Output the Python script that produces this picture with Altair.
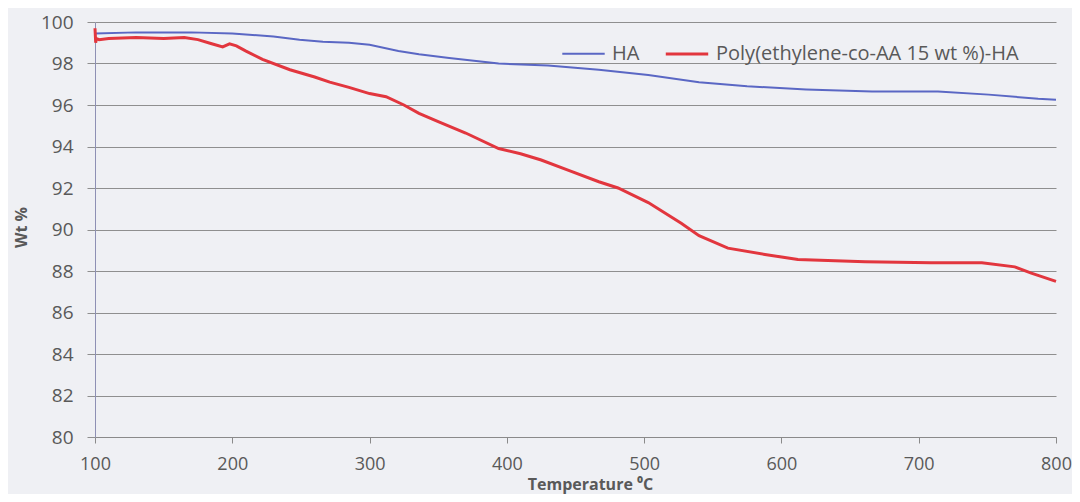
import altair as alt
import pandas as pd

# HA series (temperature degC, wt %)
ha_temp = [100, 130, 170, 200, 230, 249, 266, 285, 300, 321, 336, 358, 394, 430,
           467, 503, 540, 575, 618, 666, 714, 751, 787, 800]
ha_wt = [99.45, 99.5, 99.5, 99.45, 99.3, 99.15, 99.05, 99.0, 98.9, 98.6, 98.45, 98.27,
         98.0, 97.9, 97.7, 97.45, 97.1, 96.9, 96.75, 96.65, 96.65, 96.5, 96.3, 96.25]

# Poly(ethylene-co-AA 15 wt %)-HA series
pe_temp = [100, 100.5, 101, 103, 110, 130, 150, 165, 175, 185, 193, 198, 203, 210,
           222, 242, 260, 271, 285, 300, 312, 325, 336, 350, 370, 394, 410, 425,
           445, 467, 481, 503, 527, 540, 561, 588, 612, 661, 709, 746, 770, 782, 800]
pe_wt = [99.7, 99.0, 99.2, 99.15, 99.2, 99.25, 99.2, 99.25, 99.15, 98.95, 98.8, 98.95,
         98.85, 98.6, 98.2, 97.7, 97.35, 97.1, 96.85, 96.55, 96.4, 96.0, 95.6, 95.2,
         94.65, 93.9, 93.65, 93.35, 92.85, 92.3, 92.0, 91.3, 90.3, 89.7, 89.1, 88.8,
         88.55, 88.45, 88.4, 88.4, 88.2, 87.9, 87.5]

series_names = ["HA", "Poly(ethylene-co-AA 15 wt %)-HA"]
series_colors = ["#5a67c4", "#e2363e"]

df = pd.concat([
    pd.DataFrame({"T": ha_temp, "W": ha_wt, "s": series_names[0], "o": range(len(ha_temp))}),
    pd.DataFrame({"T": pe_temp, "W": pe_wt, "s": series_names[1], "o": range(len(pe_temp))}),
])

FONT = "Open Sans"
LBL = "#595959"

chart = alt.Chart(df).mark_line(interpolate="linear").encode(
    x=alt.X("T:Q", scale=alt.Scale(domain=[100, 800], nice=False, zero=False),
            axis=alt.Axis(values=[100, 200, 300, 400, 500, 600, 700, 800],
                          title="Temperature ⁰C", grid=False, labelFlush=False,
                          domainColor="#8a8a8a", tickColor="#8a8a8a", tickSize=6,
                          labelFontSize=18, labelColor=LBL, labelFont=FONT, labelPadding=12,
                          titleFontSize=16, titleFont=FONT, titleColor=LBL, titleFontWeight="bold",
                          titleX=495, titleY=52, titleAlign="center",
                          titleBaseline="alphabetic")),
    y=alt.Y("W:Q", scale=alt.Scale(domain=[80, 100], nice=False, zero=False),
            axis=alt.Axis(values=list(range(80, 101, 2)), title="Wt %",
                          grid=True, gridColor="#8f8f8f", gridWidth=1,
                          domainColor="#8e90b4", tickColor="#8f8f8f", tickSize=8,
                          labelFontSize=19, labelColor=LBL, labelFont=FONT, labelPadding=14,
                          titleFontSize=16, titleFont=FONT, titleColor=LBL, titleFontWeight="bold",
                          titleX=-74, titleY=205, titleAngle=270, titleAlign="center",
                          titleBaseline="middle")),
    color=alt.Color("s:N", scale=alt.Scale(domain=series_names, range=series_colors),
                    legend=alt.Legend(title=None, orient="none", direction="horizontal",
                                      legendX=466, legendY=9,
                                      symbolType="stroke", symbolSize=1800,
                                      symbolStrokeWidth=2.5, labelFontSize=20,
                                      labelFont=FONT, labelColor=LBL, labelOffset=6,
                                      labelLimit=500, columnPadding=19)),
    strokeWidth=alt.StrokeWidth("s:N", scale=alt.Scale(domain=series_names, range=[2, 3]),
                                legend=None),
    order="o:Q",
).properties(
    width=961, height=415,
    background="#eff0f4",
    padding={"left": 87, "top": 14, "right": 16, "bottom": 57},
    autosize=alt.AutoSizeParams(type="none"),
).configure_view(stroke=None)

chart.save("out.html", embed_options={"renderer": "svg", "actions": False})
